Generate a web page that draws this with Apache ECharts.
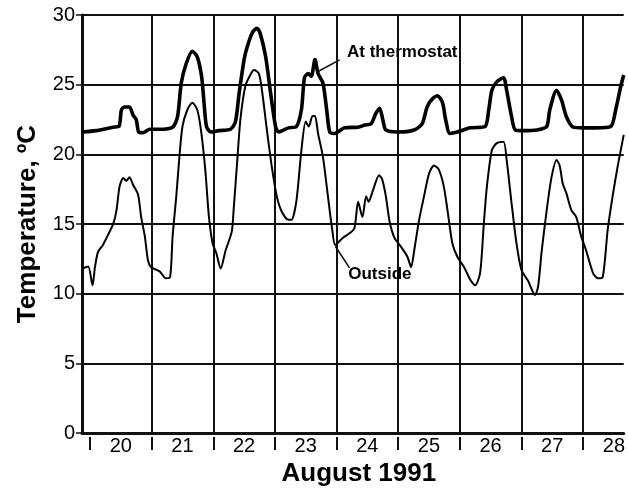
<!DOCTYPE html>
<html><head><meta charset="utf-8">
<script src="https://cdn.jsdelivr.net/npm/echarts@6/dist/echarts.min.js"></script>
<style>html,body{margin:0;padding:0;background:#fff}#c{width:628px;height:493px}</style>
</head><body><div id="c"></div>
<script>
// Time axis in days of August 1991 (day 20.0 = start of Aug 20)
const xMin = 19.87;
const xMax = 28.66;
const dayTicks = [20, 21, 22, 23, 24, 25, 26, 27, 28];
const dayGridLines = [21, 22, 23, 24, 25, 26, 27, 28];
const dayLabelPos = [20.5, 21.5, 22.5, 23.5, 24.5, 25.5, 26.5, 27.5, 28.5];
const yMin = 0, yMax = 30, yStep = 5;

const thermoDays = [19.87,20.10,20.375,20.47,20.51,20.56,20.64,20.70,20.75,20.79,20.86,20.97,21.13,21.34,21.42,21.48,21.56,21.66,21.74,21.81,21.85,21.89,21.96,22.09,22.28,22.36,22.42,22.50,22.55,22.63,22.71,22.76,22.85,22.93,23.01,23.06,23.22,23.35,23.43,23.48,23.54,23.59,23.65,23.70,23.78,23.84,23.89,23.97,24.13,24.35,24.46,24.56,24.64,24.70,24.75,24.80,24.99,25.26,25.39,25.47,25.56,25.64,25.72,25.77,25.84,25.96,26.17,26.41,26.47,26.52,26.60,26.71,26.76,26.84,26.90,27.03,27.25,27.41,27.46,27.57,27.65,27.73,27.84,28.00,28.21,28.45,28.53,28.61,28.66];
const thermoTemps = [21.6,21.7,21.95,22.0,23.2,23.4,23.4,22.8,22.5,21.6,21.55,21.8,21.8,21.95,22.7,25.1,26.5,27.4,27.0,25.6,23.7,22.0,21.6,21.7,21.8,22.35,24.4,26.8,27.7,28.7,29.05,28.7,27.0,24.4,22.0,21.6,21.9,22.0,23.2,25.5,25.8,25.6,26.8,25.8,25.1,23.2,21.6,21.5,21.9,21.95,22.1,22.2,22.95,23.3,22.5,21.75,21.6,21.75,22.2,23.4,24.0,24.2,23.7,22.5,21.5,21.6,21.9,22.0,23.2,24.6,25.2,25.5,24.6,22.7,21.75,21.7,21.75,22.0,23.2,24.6,23.9,22.7,21.95,21.9,21.9,22.0,23.2,24.85,25.7];

const outsideDays = [19.87,19.97,20.04,20.08,20.13,20.21,20.29,20.38,20.43,20.48,20.54,20.59,20.64,20.70,20.78,20.83,20.89,20.94,20.99,21.13,21.23,21.30,21.34,21.40,21.45,21.50,21.58,21.66,21.74,21.80,21.87,21.93,21.99,22.05,22.12,22.20,22.30,22.33,22.39,22.44,22.52,22.60,22.66,22.74,22.79,22.87,22.95,23.03,23.11,23.22,23.27,23.35,23.43,23.50,23.55,23.61,23.65,23.70,23.78,23.86,23.93,23.98,24.10,24.20,24.29,24.35,24.42,24.48,24.52,24.59,24.69,24.74,24.80,24.86,24.94,25.04,25.15,25.21,25.26,25.34,25.42,25.50,25.58,25.66,25.74,25.80,25.88,25.96,26.07,26.17,26.25,26.33,26.39,26.44,26.52,26.60,26.71,26.76,26.84,26.92,27.00,27.11,27.22,27.27,27.33,27.41,27.49,27.57,27.62,27.67,27.73,27.81,27.89,27.97,28.05,28.16,28.24,28.32,28.40,28.48,28.56,28.66];
const outsideTemps = [11.8,11.95,10.6,11.9,13.0,13.5,14.2,15.05,16.0,17.7,18.3,18.1,18.35,17.8,17.1,15.5,14.1,12.4,11.9,11.6,11.1,11.2,14.1,17.0,19.8,22.0,23.2,23.7,23.2,21.75,18.9,15.5,13.6,12.9,11.8,13.1,14.45,16.0,19.6,22.5,24.9,25.7,26.05,25.8,24.6,21.75,19.1,17.0,15.9,15.3,15.3,16.7,20.3,22.35,22.0,22.75,22.75,21.5,19.8,17.0,14.6,13.5,14.0,14.3,14.7,16.6,15.5,17.0,16.6,17.4,18.5,18.2,17.0,15.2,14.0,13.4,12.65,11.9,13.1,15.3,17.0,18.6,19.2,18.9,17.7,16.0,13.6,12.65,11.9,11.0,10.6,11.5,15.05,17.7,20.3,20.8,20.9,19.6,16.5,13.6,11.7,10.9,9.9,10.5,13.1,16.0,18.4,19.6,19.2,17.9,17.2,16.0,15.5,14.1,13.1,11.5,11.1,11.2,14.6,17.0,19.1,21.4];

const seriesNames = ['At thermostat', 'Outside'];
const xTitle = 'August 1991';
const yTitle = 'Temperature, ºC';

// annotation anchors (data space)
const thermoLeader = [[23.70, 25.94], [24.05, 26.78]];
const thermoLabelAt = [24.17, 27.3];
const outsideLeader = [[23.98, 13.4], [24.21, 11.85]];
const outsideLabelAt = [24.19, 11.4];

const ink = '#111';
const font = '"Liberation Sans", Arial, Helvetica, sans-serif';

function pairs(xs, ys) { return xs.map((x, i) => [x, ys[i]]); }

const chart = echarts.init(document.getElementById('c'), null, {renderer: 'canvas'});
chart.setOption({
  animation: false,
  backgroundColor: '#fff',
  textStyle: {fontFamily: font},
  grid: {left: 82, right: 0, top: 15, bottom: 60, containLabel: false},
  xAxis: [
    {
      type: 'value', min: xMin, max: xMax, position: 'bottom',
      axisLine: {show: true, onZero: false, lineStyle: {color: ink, width: 3}},
      axisTick: {show: false, customValues: dayGridLines},
      axisLabel: {show: false},
      splitLine: {show: true, lineStyle: {color: ink, width: 2}}
    },
    {
      type: 'value', min: xMin, max: xMax, position: 'bottom', offset: 4,
      axisLine: {show: false, onZero: false},
      axisTick: {show: true, inside: false, length: 13, customValues: dayTicks, lineStyle: {color: ink, width: 2}},
      axisLabel: {show: true, customValues: dayLabelPos, formatter: v => String(Math.floor(v)),
        fontSize: 20, color: '#000', verticalAlign: 'middle', margin: 9, fontFamily: font},
      splitLine: {show: false},
      name: xTitle, nameLocation: 'middle', nameGap: 36,
      nameTextStyle: {fontSize: 26, fontWeight: 'bold', color: '#000', verticalAlign: 'middle',
        fontFamily: font, padding: [0, 0, 0, 12]}
    }
  ],
  yAxis: {
    type: 'value', min: yMin, max: yMax, interval: yStep,
    axisLine: {show: true, lineStyle: {color: ink, width: 3}},
    axisTick: {show: true, length: 6, lineStyle: {color: ink, width: 1.5}},
    axisLabel: {fontSize: 20, color: '#000', margin: 7, fontFamily: font},
    splitLine: {show: true, lineStyle: {color: ink, width: 2}},
    name: yTitle, nameLocation: 'middle', nameGap: 54, nameRotate: 90,
    nameTextStyle: {fontSize: 26, fontWeight: 'bold', color: '#000', verticalAlign: 'middle', fontFamily: font}
  },
  series: [
    {
      name: seriesNames[0], type: 'line', xAxisIndex: 0, showSymbol: false, symbol: 'none',
      smooth: 0.25, data: pairs(thermoDays, thermoTemps),
      lineStyle: {color: '#000', width: 3.6}, z: 5,
      markLine: {silent: true, symbol: ['none', 'none'], label: {show: false},
        lineStyle: {color: ink, width: 1.6, type: 'solid'},
        data: [[{coord: thermoLeader[0]}, {coord: thermoLeader[1]}]]},
      markPoint: {silent: true, symbol: 'circle', symbolSize: 0,
        label: {show: true, position: 'right', distance: 0, formatter: seriesNames[0],
          fontSize: 17, fontWeight: 'bold', color: '#000', fontFamily: font},
        data: [{coord: thermoLabelAt}]}
    },
    {
      name: seriesNames[1], type: 'line', xAxisIndex: 0, showSymbol: false, symbol: 'none',
      smooth: 0.25, data: pairs(outsideDays, outsideTemps),
      lineStyle: {color: '#000', width: 2}, z: 4,
      markLine: {silent: true, symbol: ['none', 'none'], label: {show: false},
        lineStyle: {color: ink, width: 1.6, type: 'solid'},
        data: [[{coord: outsideLeader[0]}, {coord: outsideLeader[1]}]]},
      markPoint: {silent: true, symbol: 'circle', symbolSize: 0,
        label: {show: true, position: 'right', distance: 0, formatter: seriesNames[1],
          fontSize: 17, fontWeight: 'bold', color: '#000', fontFamily: font},
        data: [{coord: outsideLabelAt}]}
    }
  ]
});
</script>
</body></html>
